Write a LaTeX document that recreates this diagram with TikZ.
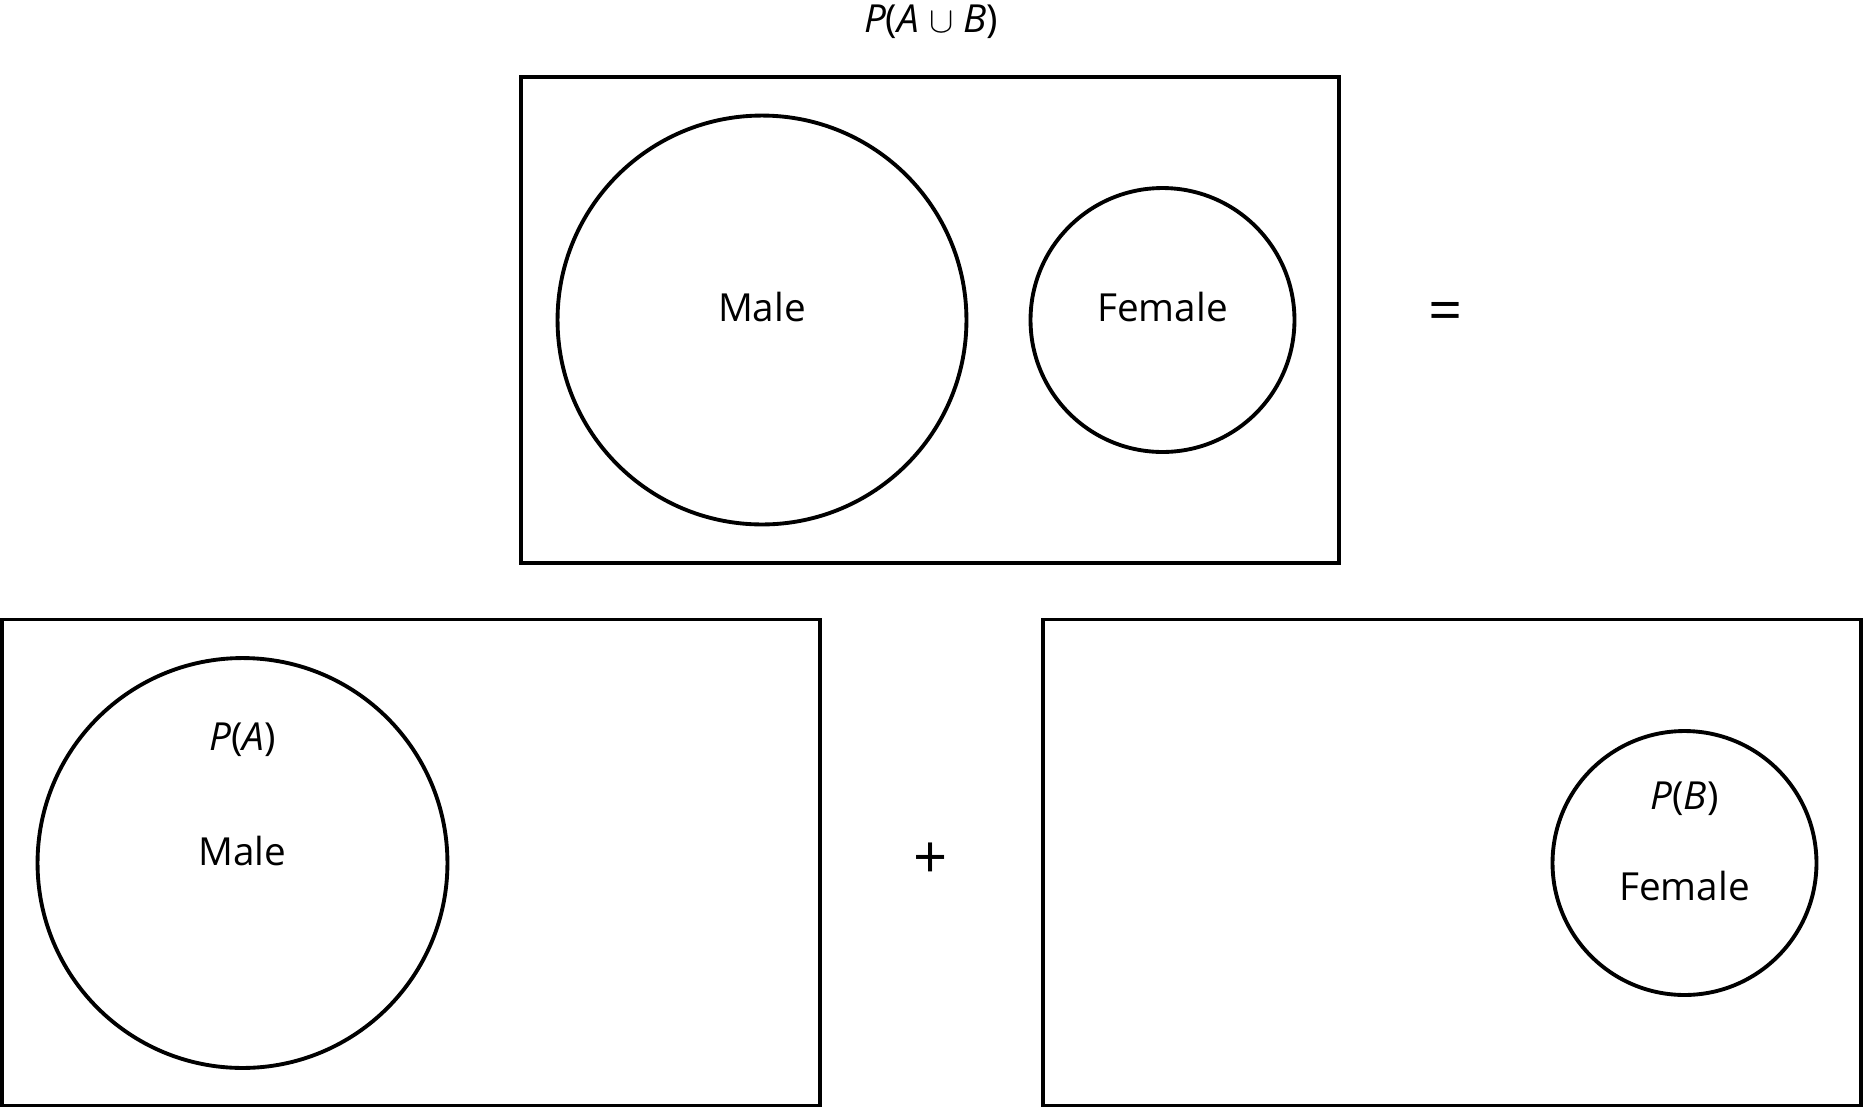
\documentclass[tikz,border=0pt]{standalone}
\usepackage{fontspec}
\setmainfont{Open Sans}
\usetikzlibrary{positioning}

\begin{document}
\begin{tikzpicture}[x=0.02cm, y=-0.02cm,
          box/.style={rectangle, draw, line width=2.2pt, inner sep=0pt,
                      minimum width=16.36cm, minimum height=9.72cm},
          set/.style={circle, draw, line width=2.2pt, inner sep=0pt},
          lbl/.style={inner sep=0pt, font=\fontsize{22}{26}\selectfont},
          op/.style={inner sep=0pt, font=\fontsize{34}{40}\selectfont},
          every node/.style={align=center}]
        \useasboundingbox (0,0) rectangle (1864,1110);
        % top: union
        \node[lbl] (union) at (931,22) {\textit{P}(\textit{A} $\cup$ \textit{B})};
        \node[box] (all) at (930,320) {};
        \node[set, minimum size=8.18cm] (male) at (762,320) {};
        \node[set, minimum size=5.28cm] (female) at (1162.5,320) {};
        \node[lbl] at (male.center) [yshift=0.26cm] {Male};
        \node[lbl] at (female.center) [yshift=0.26cm] {Female};
        \node[op] (eq) at (1446,317) {=};
        % bottom left: P(A)
        \node[box] (left) at (411,862.5) {};
        \node[set, minimum size=8.2cm] (maleA) at (242.5,863) {};
        \node[lbl] (pa) at (242.5,740) {\textit{P}(\textit{A})};
        \node[lbl] (maleAtxt) at (242.5,851) {Male};
        \node[op] (plus) at (931,861) {+};
        % bottom right: P(B)
        \node[box] (right) at (1452,862.5) {};
        \node[set, minimum size=5.28cm] (femaleB) at (1684.5,863) {};
        \node[lbl] (pb) at (1684.5,799) {\textit{P}(\textit{B})};
        \node[lbl] (femaleBtxt) at (1684.5,886) {Female};
      \end{tikzpicture}
\end{document}
